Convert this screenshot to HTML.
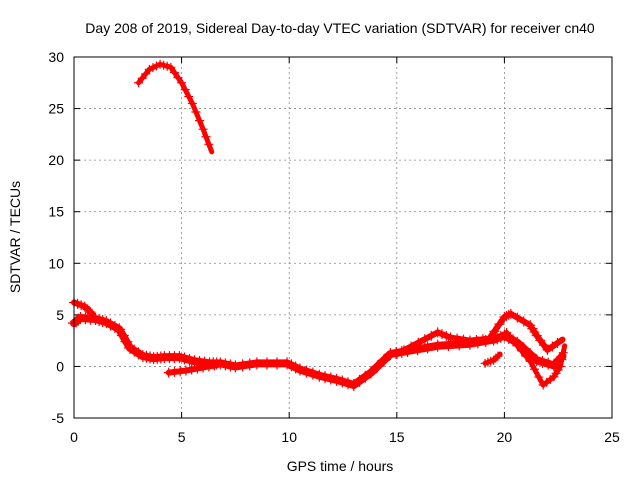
<!DOCTYPE html>
<html><head><meta charset="utf-8"><style>
html,body{margin:0;padding:0;background:#fff}
svg{display:block;font-family:"Liberation Sans",sans-serif}
</style></head><body>
<svg id="chart" width="640" height="480" viewBox="0 0 640 480" xmlns="http://www.w3.org/2000/svg">
<text x="340" y="33" font-size="14" text-anchor="middle">Day 208 of 2019, Sidereal Day-to-day VTEC variation (SDTVAR) for receiver cn40</text>
<text x="340" y="471" font-size="14" text-anchor="middle">GPS time / hours</text>
<text transform="translate(20,237) rotate(-90)" font-size="14" text-anchor="middle">SDTVAR / TECUs</text>
<g id="grid"></g>
<g id="axes"></g>
<g id="series"></g>
<rect x="74" y="57" width="538" height="361" fill="none" stroke="#000" stroke-width="1"/>
</svg>
<script>
const xTicks = [0,5,10,15,20,25];
const yTicks = [-5,0,5,10,15,20,25,30];
const trackAHours = [3,3.5,4,4.5,5,5.5,6,6.4];
const trackAValues = [27.5,28.8,29.3,29,27.5,25.5,23,20.8];
const mainHours = [0,0.3,1,1.5,2.1,2.6,3.2,3.7,4.2,4.9,5.6,6.3,6.8,7.5,8.5,9.9,10.5,11.4,12.2,13,13.8,14.7,15.5,16.9,18.4,19.5,20,20.6,21.5,22.3,22.7];
const mainValues = [4.2,4.7,4.6,4.3,3.6,1.8,1,0.8,0.9,0.9,0.5,0.3,0.3,0,0.3,0.3,-0.3,-0.9,-1.3,-1.8,-0.6,1.2,1.5,2,2.2,2.6,3,2.3,0.6,0.1,1];
const upperLeftHours = [0,0.5,0.9];
const upperLeftValues = [6.2,5.8,5];
const lowerMidHours = [4.4,5.2,6,6.8];
const lowerMidValues = [-0.6,-0.4,-0.1,0.2];
const upperRightHours = [15,16,16.9,17.5,18.4,19.3,20,20.3,21.2,21.5,22,22.7];
const upperRightValues = [1.2,2.3,3.3,2.8,2.5,2.7,4.8,5.1,4,3,1.6,2.6];
const lowerRightHours = [20.1,20.6,21.2,21.8,22.3,22.6,22.8];
const lowerRightValues = [3.3,2,0.5,-1.8,-1,0,2];
const blobHours = [19.1,19.5,19.8];
const blobValues = [0.3,0.6,1.2];

const X = h => 74 + h / 25 * 538;
const Y = v => 418 - (v + 5) / 35 * 361;
const NS = "http://www.w3.org/2000/svg";
const grid = document.getElementById('grid'), axes = document.getElementById('axes'), series = document.getElementById('series');
function mk(tag, attrs, parent){const e=document.createElementNS(NS,tag);for(const k in attrs)e.setAttribute(k,attrs[k]);parent.appendChild(e);return e;}

xTicks.forEach(t=>{
  const x=X(t);
  if(t>0&&t<25){const g=mk('line',{x1:x,x2:x,y1:57,y2:418,stroke:'#888','stroke-dasharray':'2,3','stroke-width':0.8},grid);
  
  }
  mk('line',{x1:x,x2:x,y1:418,y2:412,stroke:'#000'},axes);
  mk('line',{x1:x,x2:x,y1:57,y2:63,stroke:'#000'},axes);
  const l=mk('text',{x:x,y:442,'font-size':14,'text-anchor':'middle'},axes);l.textContent=t;
  
  
});
yTicks.forEach(t=>{
  const y=Y(t);
  if(t>-5&&t<30){const g=mk('line',{x1:74,x2:612,y1:y,y2:y,stroke:'#888','stroke-dasharray':'2,3','stroke-width':0.8},grid);
  
  }
  mk('line',{x1:74,x2:80,y1:y,y2:y,stroke:'#000'},axes);
  mk('line',{x1:606,x2:612,y1:y,y2:y,stroke:'#000'},axes);
  const l=mk('text',{x:64,y:y+5,'font-size':14,'text-anchor':'end'},axes);l.textContent=t;
  
  
});

function track(hs, vs, name, w){
  const pts=hs.map((h,i)=>X(h)+','+Y(vs[i])).join(' ');
  const p=mk('polyline',{points:pts,fill:'none',stroke:'#f00','stroke-width':w,'stroke-linejoin':'round','stroke-linecap':'round'},series);
  
  
  for(let i=0;i<hs.length-1;i++){
    for(let s=0;s<3;s++){
      const f=s/3,x=X(hs[i]+(hs[i+1]-hs[i])*f),y=Y(vs[i]+(vs[i+1]-vs[i])*f);
      mk('path',{d:`M${x-w/2-2},${y}h${w+4}M${x},${y-w/2-2}v${w+4}`,stroke:'#f00','stroke-width':1.2},series);
    }
  }
}
track(trackAHours,trackAValues,'track-top',5);
track(mainHours,mainValues,'track-main',8);
track(upperLeftHours,upperLeftValues,'track-upper-left',6);
track(lowerMidHours,lowerMidValues,'track-lower-mid',6);
track(upperRightHours,upperRightValues,'track-upper-right',6);
track(lowerRightHours,lowerRightValues,'track-lower-right',5);
track(blobHours,blobValues,'track-blob',5);
</script>
</body></html>
